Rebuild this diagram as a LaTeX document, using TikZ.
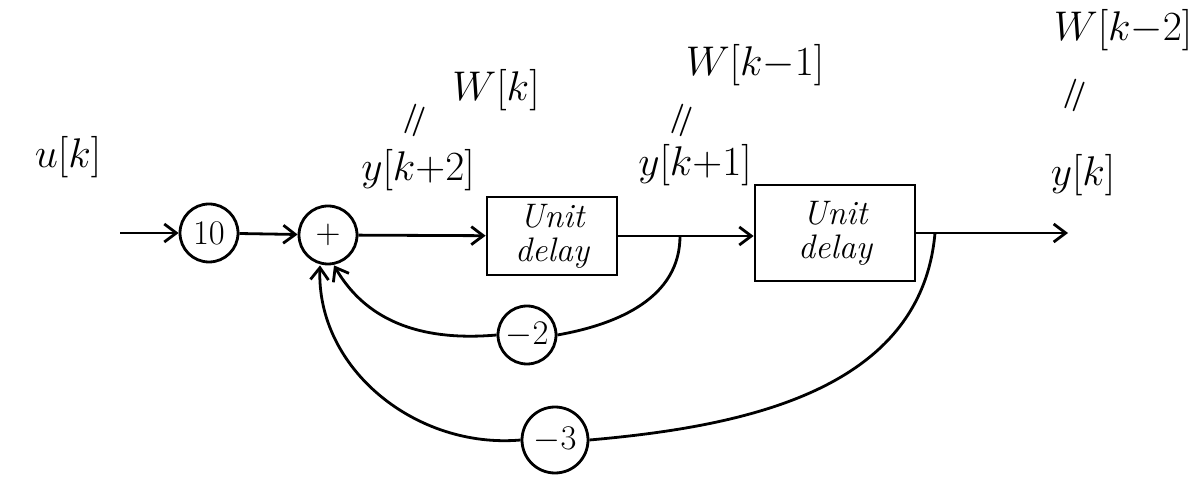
\documentclass[tikz,border=0pt]{standalone}
\usetikzlibrary{arrows.meta,calc}

\begin{document}
\begin{tikzpicture}[x=0.5pt, y=-0.5pt,
    line width=1.4pt,
    flow/.style={-{Straight Barb[length=6pt,width=9pt]}},
    gain/.style={draw, circle, minimum size=29pt, inner sep=0pt, font=\fontsize{17}{17}\selectfont},
    delay/.style={draw, rectangle, align=center, inner sep=2pt, font=\fontsize{17}{17}\selectfont\itshape},
    sig/.style={font=\fontsize{22}{26}\selectfont},
    eqs/.style={rotate=70, font=\fontsize{30}{30}\selectfont}]

    \useasboundingbox (0,0) rectangle (1199,480);

    % Blocks
    \node[gain] (g10) at (209,233) {$10$};
    \node[gain] (sum) at (328,235) {$+$};
    \node[delay, minimum width=65pt, minimum height=39pt] (d1) at (552,236) {Unit\\delay};
    \node[delay, minimum width=80pt, minimum height=48pt] (d2) at (835,233) {Unit\\delay};
    \node[gain] (g2) at (527,335) {$-2$};
    \node[gain, minimum size=33pt] (g3) at (555,440) {$-3$};

    \coordinate (in) at (120,233);
    \coordinate (out) at (1068,233);
    \coordinate (tap1) at (680,236);
    \coordinate (tap2) at (935,233);

    % Forward path
    \draw[flow] (in) -- (g10);
    \draw[flow] (g10) -- (sum);
    \draw[flow] (sum) -- (d1);
    \draw[flow] (d1.east) -- (d1.east -| d2.west);
    \draw[flow] (d2.east) -- (out);

    % Feedback
    \draw (tap1) to[out=-90, in=10] (g2.east);
    \draw[flow] (g2.west) to[out=185, in=-60] ($(sum.south)+(6,0)$);
    \draw (tap2) to[out=-95, in=5] (g3.east);
    \draw[flow] (g3.west) to[out=185, in=-92] ($(sum.south)+(-8,0)$);

    % Signal labels
    \node[sig] (u) at (68,157) {$u[k]$};
    \node[sig] (w0) at (496,90) {$W[k]$};
    \node[eqs] (e0) at (418,122) {$=$};
    \node[sig] (y2) at (418,170) {$y[k{+}2]$};
    \node[sig] (w1) at (755,65) {$W[k{-}1]$};
    \node[eqs] (e1) at (685,122) {$=$};
    \node[sig] (y1) at (695,165) {$y[k{+}1]$};
    \node[sig] (w2) at (1123,30) {$W[k{-}2]$};
    \node[eqs] (e2) at (1078,97) {$=$};
    \node[sig] (y0) at (1083,175) {$y[k]$};

\end{tikzpicture}
\end{document}
